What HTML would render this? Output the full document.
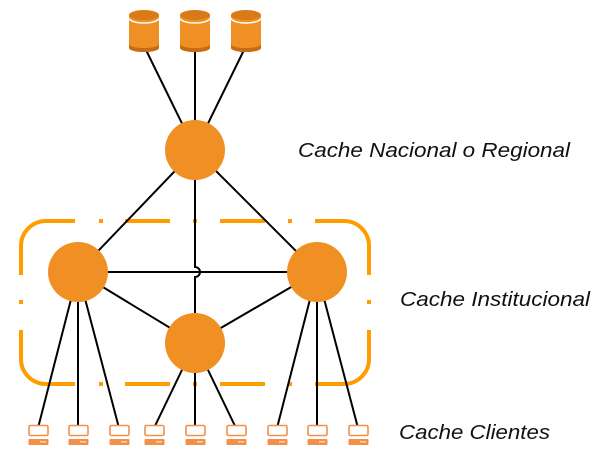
<!DOCTYPE html>
<html><head><meta charset="utf-8"><style>
html,body{margin:0;padding:0;background:#fff;width:608px;height:470px;overflow:hidden}
svg{display:block}
text{font-family:"Liberation Sans",sans-serif;font-style:italic;font-size:20px;fill:#111}
</style></head><body>
<svg width="608" height="470" viewBox="0 0 608 470" xmlns="http://www.w3.org/2000/svg">
<defs>
<g id="db">
<path d="M-15,15 L-15,48 A15,4 0 0 0 15,48 L15,15 Z" fill="#f08f24"/>
<path d="M-15,44 L-15,48 A15,4 0 0 0 15,48 L15,44 A15,4 0 0 1 -15,44Z" fill="#c46d14"/>
<ellipse cx="0" cy="15" rx="15" ry="5" fill="#d87a18"/>
<path d="M-15,18 A15,5 0 0 0 15,18" fill="none" stroke="#fff" stroke-width="1.5"/>
</g>
<g id="pc">
<rect x="-9" y="0.5" width="19" height="10" rx="1.5" fill="#fff" stroke="#f2904a" stroke-width="1.6"/>
<rect x="-9.5" y="14" width="20" height="6" rx="1" fill="#f2904a"/>
<rect x="2" y="16" width="6" height="1.5" fill="#fbd3b0"/>
</g>
</defs>
<!-- dashed border -->
<g fill="none" stroke="#ff9d00" stroke-width="4">
<path d="M21,275 L21,246 A25,25 0 0 1 46,221 L75,221"/>
<path d="M315,221 L344,221 A25,25 0 0 1 369,246 L369,275"/>
<path d="M21,330 L21,359 A25,25 0 0 0 46,384 L75,384"/>
<path d="M315,384 L344,384 A25,25 0 0 0 369,359 L369,330"/>
<path d="M99,221h4 M125,221h45 M193,221h4 M220,221h45 M288,221h4"/>
<path d="M99,384h4 M125,384h45 M193,384h4 M220,384h45 M288,384h4"/>
<path d="M21,300v4 M369,300v4"/>
</g>
<!-- connectors -->
<g stroke="#000" stroke-width="2" fill="none">
<line x1="146" y1="50" x2="195" y2="150"/>
<line x1="195" y1="50" x2="195" y2="150"/>
<line x1="244" y1="50" x2="195" y2="150"/>
<line x1="195" y1="150" x2="78" y2="272"/>
<line x1="195" y1="150" x2="317" y2="272"/>
<path d="M195,150 L195,267 A5,5 0 0 1 195,277 L195,343"/>
<line x1="78" y1="272" x2="317" y2="272"/>
<line x1="78" y1="272" x2="195" y2="343"/>
<line x1="317" y1="272" x2="195" y2="343"/>
<line x1="78" y1="272" x2="38" y2="428"/>
<line x1="78" y1="272" x2="78" y2="428"/>
<line x1="78" y1="272" x2="119" y2="428"/>
<line x1="195" y1="343" x2="154" y2="428"/>
<line x1="195" y1="343" x2="195" y2="428"/>
<line x1="195" y1="343" x2="236" y2="428"/>
<line x1="317" y1="272" x2="277" y2="428"/>
<line x1="317" y1="272" x2="317" y2="428"/>
<line x1="317" y1="272" x2="358" y2="428"/>
</g>
<g fill="#f08f24">
<circle cx="195" cy="150" r="30"/>
<circle cx="78" cy="272" r="30"/>
<circle cx="317" cy="272" r="30"/>
<circle cx="195" cy="343" r="30"/>
</g>
<use href="#db" x="144" y="0"/>
<use href="#db" x="195" y="0"/>
<use href="#db" x="246" y="0"/>
<use href="#pc" x="38" y="425"/>
<use href="#pc" x="78" y="425"/>
<use href="#pc" x="119" y="425"/>
<use href="#pc" x="154" y="425"/>
<use href="#pc" x="195" y="425"/>
<use href="#pc" x="236" y="425"/>
<use href="#pc" x="277" y="425"/>
<use href="#pc" x="317" y="425"/>
<use href="#pc" x="358" y="425"/>
<text x="298" y="157" textLength="272" lengthAdjust="spacingAndGlyphs">Cache Nacional o Regional</text>
<text x="400" y="306" textLength="190" lengthAdjust="spacingAndGlyphs">Cache Institucional</text>
<text x="399" y="439" textLength="151" lengthAdjust="spacingAndGlyphs">Cache Clientes</text>
</svg>
</body></html>
